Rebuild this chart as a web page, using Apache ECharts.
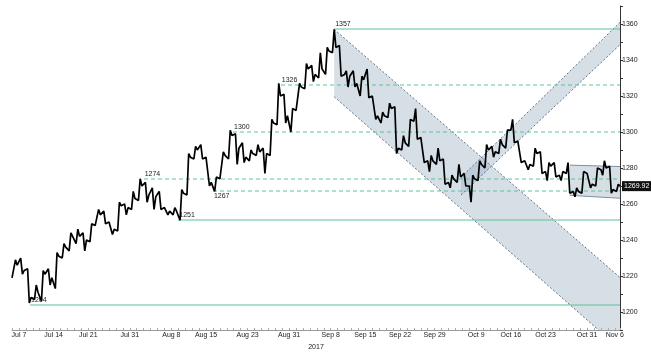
<!DOCTYPE html>
<html>
<head>
<meta charset="utf-8">
<script src="https://cdn.jsdelivr.net/npm/echarts@6/dist/echarts.min.js"></script>
<style>
html, body { margin: 0; padding: 0; background: #fff; }
#main { width: 651px; height: 353px; }
</style>
</head>
<body>
<div id="main"></div>
<script>
// trading days (x = day index, each day spans one unit on the axis)
const days = ['Jul 6','Jul 7','Jul 10','Jul 11','Jul 12','Jul 13','Jul 14','Jul 17','Jul 18','Jul 19','Jul 20','Jul 21','Jul 24','Jul 25','Jul 26','Jul 27','Jul 28','Jul 31',
  'Aug 1','Aug 2','Aug 3','Aug 4','Aug 7','Aug 8','Aug 9','Aug 10','Aug 11','Aug 14','Aug 15','Aug 16','Aug 17','Aug 18','Aug 21','Aug 22','Aug 23','Aug 24','Aug 25','Aug 28','Aug 29','Aug 30','Aug 31',
  'Sep 1','Sep 4','Sep 5','Sep 6','Sep 7','Sep 8','Sep 11','Sep 12','Sep 13','Sep 14','Sep 15','Sep 18','Sep 19','Sep 20','Sep 21','Sep 22','Sep 25','Sep 26','Sep 27','Sep 28','Sep 29',
  'Oct 2','Oct 3','Oct 4','Oct 5','Oct 6','Oct 9','Oct 10','Oct 11','Oct 12','Oct 13','Oct 16','Oct 17','Oct 18','Oct 19','Oct 20','Oct 23','Oct 24','Oct 25','Oct 26','Oct 27','Oct 30','Oct 31',
  'Nov 1','Nov 2','Nov 3','Nov 6'];
const tickDays = ['Jul 7','Jul 14','Jul 21','Jul 31','Aug 8','Aug 15','Aug 23','Aug 31','Sep 8','Sep 15','Sep 22','Sep 29','Oct 9','Oct 16','Oct 23','Oct 31','Nov 6'];

const open  = [1219,1226,1223,1208,1211,1221,1219,1231,1236,1242,1242,1240,1248,1254,1250,1246,1259,1258,1263,1270,1265,1264,1258,1256,1256,1266,1286,1290,1286,1272,
  1274,1287,1298,1291,1286,1288,1289,1288,1305,1320,1309,1312,1325,1335,1332,1335,1345,1347,1332,1331,1327,1329,1320,1309,1309,1313,1291,1294,1306,1297,
  1284,1284,1284,1272,1274,1275,1270,1274,1282,1290,1289,1293,1301,1295,1284,1282,1288,1278,1281,1276,1277,1267,1267,1277,1271,1279,1280,1268];
const high  = [1229,1230,1224,1215,1223,1224,1233,1238,1244,1246,1244,1249,1257,1256,1251,1261,1260,1267,1274,1272,1269,1267,1258,1258,1268,1288,1292,1293,1287,1275,
  1289,1301,1299,1294,1290,1293,1291,1307,1327,1321,1313,1327,1338,1337,1344,1347,1357,1348,1334,1334,1331,1335,1321,1311,1316,1314,1298,1307,1313,1298,
  1287,1291,1285,1276,1282,1277,1276,1284,1293,1292,1296,1301,1307,1296,1285,1291,1289,1283,1283,1278,1283,1269,1278,1278,1280,1284,1281,1271];
const low   = [1218,1221,1205,1207,1206,1215,1213,1230,1234,1238,1234,1239,1247,1249,1243,1245,1254,1257,1262,1261,1257,1257,1254,1254,1251,1265,1285,1285,1270,1267,
  1273,1285,1282,1283,1284,1287,1277,1287,1304,1305,1300,1311,1324,1328,1330,1332,1344,1331,1325,1325,1320,1319,1307,1305,1308,1288,1290,1292,1296,1283,
  1278,1282,1271,1269,1272,1270,1261,1273,1280,1286,1288,1291,1294,1283,1279,1281,1277,1273,1275,1273,1266,1264,1266,1269,1270,1276,1266,1267];
const close = [1226,1223,1208,1211,1221,1219,1231,1236,1242,1242,1240,1248,1254,1250,1246,1259,1258,1263,1270,1265,1264,1258,1256,1256,1266,1286,1290,1286,1272,1274,
  1287,1298,1291,1286,1288,1289,1288,1305,1320,1309,1312,1325,1335,1332,1335,1345,1347,1332,1331,1327,1329,1320,1309,1309,1313,1291,1294,1306,1297,1284,
  1284,1284,1272,1274,1275,1270,1274,1282,1290,1289,1293,1301,1295,1284,1282,1288,1278,1281,1276,1277,1267,1267,1277,1271,1279,1280,1268,1269.92];
const lastPrice = '1269.92';

// support / resistance levels
const levelValues = [1357, 1326, 1300, 1274, 1267, 1251, 1204];
const levelStart = [46.5, 38.8, 31.9, 19.0, 29.0, 24.0, 2.6];
const levelDashed = [false, true, true, true, true, false, false];
const levelLabelBelow = [false, false, false, false, true, false, false];

// channels: upper edge, lower edge, extra corner (day, price)
const channelUpper = [[[46.5, 1357], [87.75, 1219.2]], [[64.8, 1274.8], [87.75, 1360.9]], [[80.5, 1281.6], [87.75, 1280.8]]];
const channelLower = [[[46.5, 1319.6], [84.64, 1190]], [[64.8, 1265], [87.75, 1348.5]], [[80.5, 1264.8], [87.75, 1263.2]]];
const channelCorner = [[[87.75, 1190]], [], []];

const xMax = 87.75;
const font = '"Liberation Sans", Arial, sans-serif';

// one path per day: open -> low/high -> high/low -> close
let pricePath = [];
days.forEach(function (d, i) {
    let up = close[i] >= open[i];
    let mid = up ? [low[i], high[i]] : [high[i], low[i]];
    pricePath.push([i, open[i]], [i + 0.25, mid[0]], [i + 0.5, mid[1]], [i + 0.75, close[i]]);
});

let myChart = echarts.init(document.getElementById('main'));
let option = {
    animation: false,
    textStyle: { fontFamily: font },
    grid: { left: 12, right: 31, top: 6, bottom: 23, outerBoundsMode: 'none' },
    xAxis: {
        type: 'value',
        min: 0,
        max: xMax,
        interval: 1,
        name: '2017',
        nameLocation: 'middle',
        nameGap: 7,
        nameTextStyle: { fontSize: 7, color: '#222' },
        axisLine: { show: true, onZero: false, lineStyle: { color: '#999' } },
        axisTick: { show: true, inside: true, length: 2, lineStyle: { color: '#aaa' } },
        splitLine: { show: false },
        axisLabel: {
            fontSize: 7,
            color: '#222',
            margin: 2,
            formatter: function (v) {
                return tickDays.indexOf(days[v]) >= 0 ? days[v] : '';
            }
        }
    },
    yAxis: {
        type: 'value',
        position: 'right',
        min: 1190,
        max: 1370,
        interval: 10,
        axisLine: { show: true, onZero: false, lineStyle: { color: '#333' } },
        axisTick: { show: true, length: 3, lineStyle: { color: '#333' } },
        splitLine: { show: false },
        axisLabel: {
            fontSize: 7,
            color: '#222',
            margin: 2,
            formatter: function (v) { return v % 20 === 0 ? String(v) : ''; }
        }
    },
    series: [
        {
            type: 'custom',
            z: 1,
            silent: true,
            data: channelUpper.map(function (c) { return c[0]; }),
            renderItem: function (params, api) {
                let k = params.dataIndex;
                let up = channelUpper[k].map(function (p) { return api.coord(p); });
                let lo = channelLower[k].map(function (p) { return api.coord(p); });
                let corner = channelCorner[k].map(function (p) { return api.coord(p); });
                let poly = up.concat(corner, lo.slice().reverse());
                let edge = k === 2
                    ? { stroke: '#7f90a4', lineWidth: 1, fill: null }
                    : { stroke: '#5f7086', lineWidth: 1, lineDash: [2, 2], fill: null };
                return {
                    type: 'group',
                    children: [
                        { type: 'polygon', shape: { points: poly }, style: { fill: 'rgba(152,172,192,0.4)' } },
                        { type: 'polyline', shape: { points: up }, style: edge },
                        { type: 'polyline', shape: { points: lo }, style: edge }
                    ]
                };
            }
        },
        {
            type: 'custom',
            z: 2,
            silent: true,
            data: levelValues.map(function (v, i) { return [levelStart[i], v]; }),
            renderItem: function (params, api) {
                let i = params.dataIndex;
                let p0 = api.coord([api.value(0), api.value(1)]);
                let p1 = api.coord([xMax, api.value(1)]);
                let y = Math.round(p0[1]);
                let below = levelLabelBelow[i];
                return {
                    type: 'group',
                    children: [
                        {
                            type: 'line',
                            shape: { x1: Math.round(p0[0]), y1: y, x2: Math.round(p1[0]), y2: y },
                            style: { stroke: '#5fc39a', lineWidth: 1.2, lineDash: levelDashed[i] ? [4, 3] : null }
                        },
                        {
                            type: 'text',
                            style: {
                                text: String(levelValues[i]),
                                x: p0[0] + 1,
                                y: below ? y + 1.5 : y - 1,
                                align: 'left',
                                verticalAlign: below ? 'top' : 'bottom',
                                fill: '#222',
                                font: '7px ' + font
                            }
                        }
                    ]
                };
            }
        },
        {
            type: 'line',
            z: 5,
            data: pricePath,
            showSymbol: false,
            lineStyle: { color: '#000', width: 1.7 },
            endLabel: {
                show: true,
                formatter: lastPrice,
                color: '#fff',
                backgroundColor: '#111',
                padding: [2, 2, 1, 2],
                fontSize: 7,
                distance: 2
            }
        }
    ]
};
myChart.setOption(option);
</script>
</body>
</html>
